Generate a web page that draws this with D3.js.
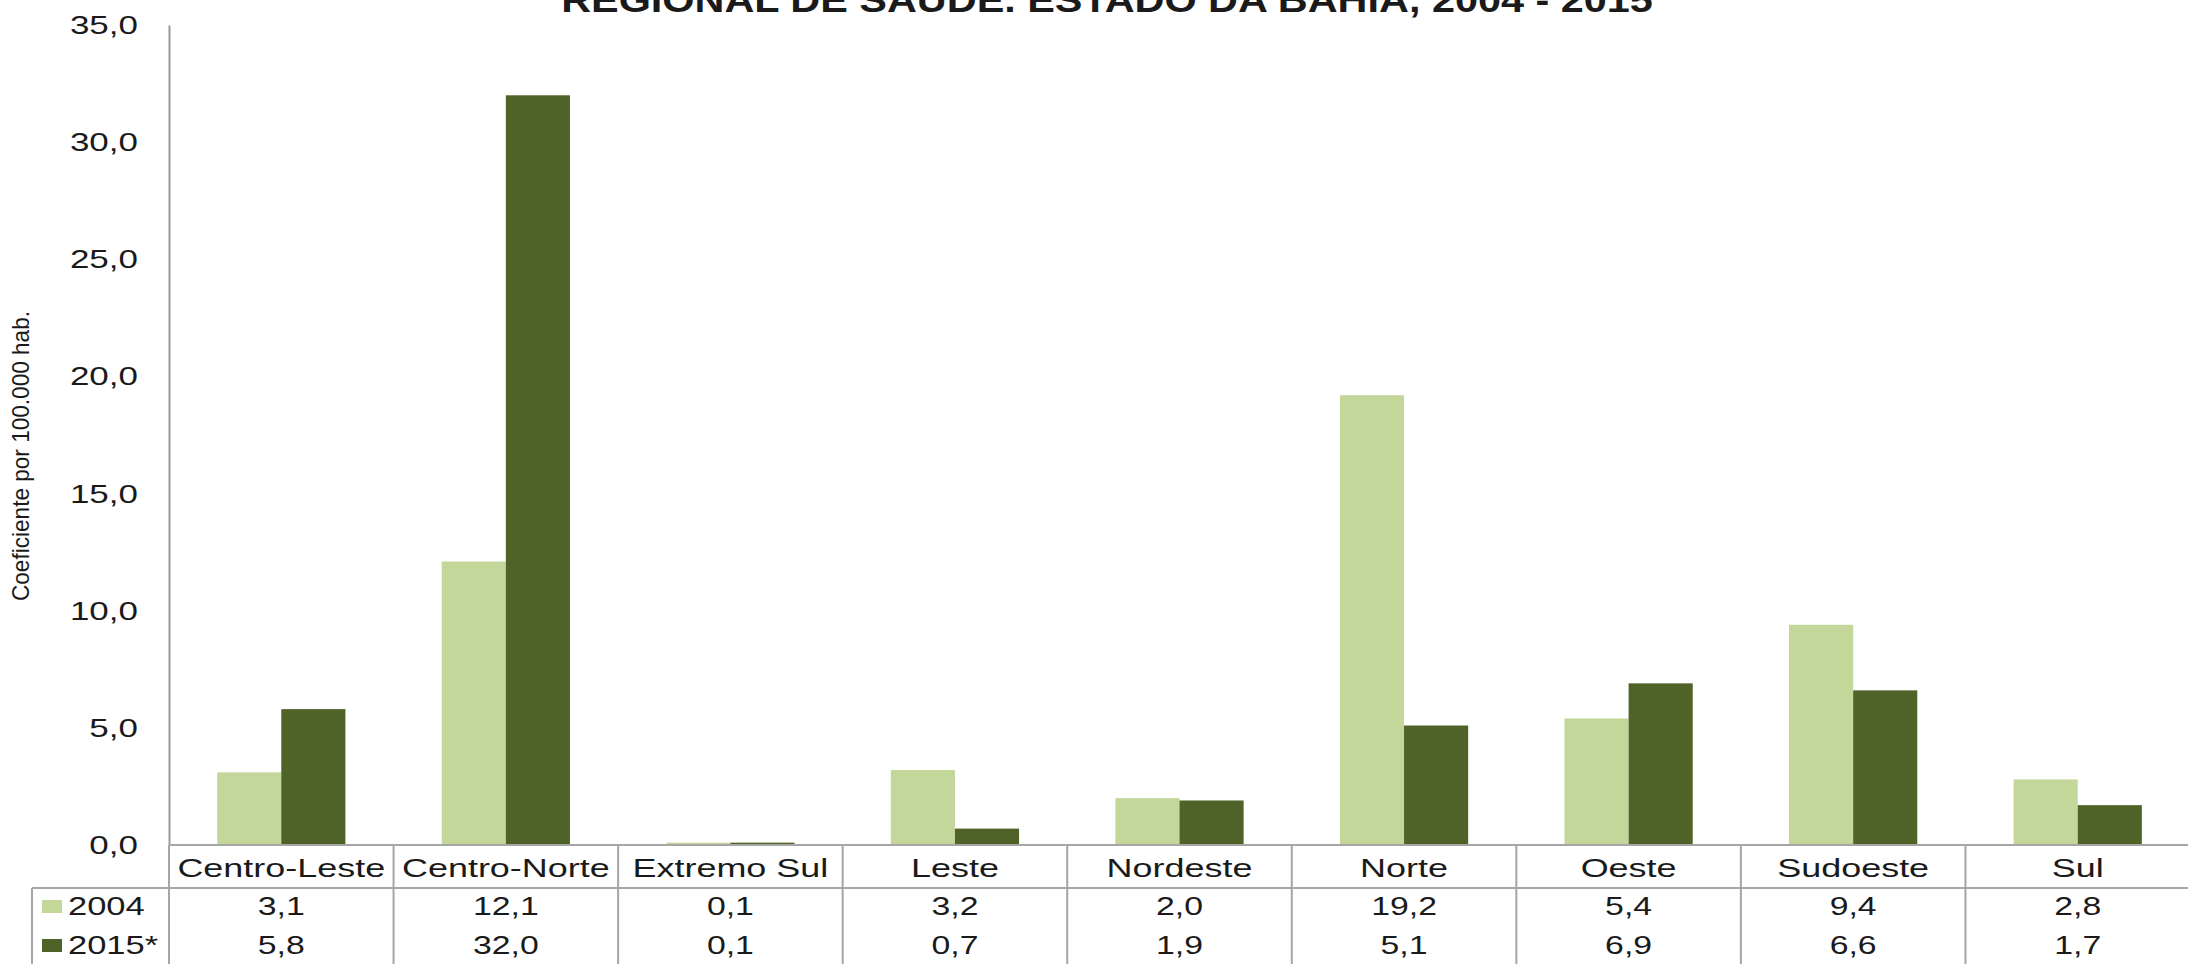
<!DOCTYPE html>
<html>
<head>
<meta charset="utf-8">
<style>
  body { margin: 0; background: #fff; overflow: hidden; }
  text { font-family: "Liberation Sans", Arial, sans-serif; fill: #1a1a1a; }
</style>
</head>
<body>
<div id="chart"></div>
<script src="https://d3js.org/d3.v7.min.js"></script>
<script>
// data
var categories = ["Centro-Leste", "Centro-Norte", "Extremo Sul", "Leste", "Nordeste", "Norte", "Oeste", "Sudoeste", "Sul"];
var seriesNames = ["2004", "2015*"];
var values2004 = [3.1, 12.1, 0.1, 3.2, 2.0, 19.2, 5.4, 9.4, 2.8];
var values2015 = [5.8, 32.0, 0.1, 0.7, 1.9, 5.1, 6.9, 6.6, 1.7];
var yTicks = [0, 5, 10, 15, 20, 25, 30, 35];
var colors = ["#c4d79b", "#4f6228"];

var W = 2188, H = 964;
var plotLeft = 169, plotRight = 2190, plotTop = 25, base = 845;

var svg = d3.select("#chart").append("svg")
  .attr("width", W).attr("height", H);

var br = d3.formatLocale({decimal: ",", thousands: ".", grouping: [3], currency: ["R$", ""]});
var fmt = br.format(".1f");

var x = d3.scaleBand().domain(categories).range([plotLeft, plotRight]).padding(0);
var y = d3.scaleLinear().domain([0, 35]).range([base, plotTop]);
var groupW = x.bandwidth() * 0.571;
var xs = d3.scaleBand().domain(seriesNames).range([0, groupW]).padding(0);

// helper for text; the picture is stretched sideways so text gets a x-scale
function label(g, px, py, str, size, stretch, anchor, weight) {
  var t = g.append("g").attr("transform", "translate(" + px + "," + py + ") scale(" + stretch + ",1)");
  return t.append("text")
    .attr("text-anchor", anchor || "middle")
    .style("font-size", size + "px")
    .style("font-weight", weight || "normal")
    .text(str);
}

// title (only the last line shows, the rest is cut off above)
label(svg, 1107, 12, "REGIONAL DE SAÚDE. ESTADO DA BAHIA, 2004 - 2015", 34.5, 1.2, "middle", "bold");

// y axis
var yAxis = svg.append("g").attr("transform", "translate(" + plotLeft + ",0)")
  .call(d3.axisLeft(y).tickValues(yTicks).tickSize(0).tickFormat(""));
yAxis.select(".domain").attr("stroke", "#9a9a9a").attr("stroke-width", 2);
yTicks.forEach(function(t) {
  label(svg, 138, y(t) + 9, fmt(t), 25, 1.4, "end");
});

// y axis title
svg.append("g").attr("transform", "translate(29,456) rotate(-90)")
  .append("text")
    .attr("text-anchor", "middle")
    .attr("textLength", 290)
    .attr("lengthAdjust", "spacingAndGlyphs")
    .style("font-size", "24px")
    .text("Coeficiente por 100.000 hab.");

// bars
var rows = [values2004, values2015];
rows.forEach(function(vals, s) {
  svg.append("g").selectAll("rect")
    .data(vals)
    .enter().append("rect")
      .attr("x", function(d, i) { return x(categories[i]) + (x.bandwidth() - groupW) / 2 + xs(seriesNames[s]); })
      .attr("y", function(d) { return y(d); })
      .attr("width", xs.bandwidth())
      .attr("height", function(d) { return base - y(d); })
      .attr("fill", colors[s]);
});

// data table under the chart
var tbl = svg.append("g");
var lineCol = "#a6a6a6";
var headY = 888;
var rowBase = [915, 954];
tbl.append("line").attr("x1", plotLeft).attr("x2", W).attr("y1", base).attr("y2", base)
  .attr("stroke", lineCol).attr("stroke-width", 2);
tbl.append("line").attr("x1", 32).attr("x2", W).attr("y1", headY).attr("y2", headY)
  .attr("stroke", lineCol).attr("stroke-width", 2);
tbl.append("line").attr("x1", 32).attr("x2", 32).attr("y1", headY).attr("y2", H)
  .attr("stroke", lineCol).attr("stroke-width", 2);
tbl.selectAll(".vline")
  .data(categories)
  .enter().append("line")
    .attr("x1", function(d) { return x(d); })
    .attr("x2", function(d) { return x(d); })
    .attr("y1", base).attr("y2", H)
    .attr("stroke", lineCol).attr("stroke-width", 2);

categories.forEach(function(c) {
  label(tbl, x(c) + x.bandwidth() / 2, 877, c, 25.5, 1.41, "middle");
});
rows.forEach(function(vals, s) {
  var ry = rowBase[s];
  vals.forEach(function(v, i) {
    label(tbl, x(categories[i]) + x.bandwidth() / 2, ry, fmt(v), 26, 1.3, "middle");
  });
  tbl.append("rect").attr("x", 42).attr("y", ry - 15).attr("width", 20).attr("height", 13).attr("fill", colors[s]);
  label(tbl, 68, ry, seriesNames[s], 25, 1.38, "start");
});
</script>
</body>
</html>
